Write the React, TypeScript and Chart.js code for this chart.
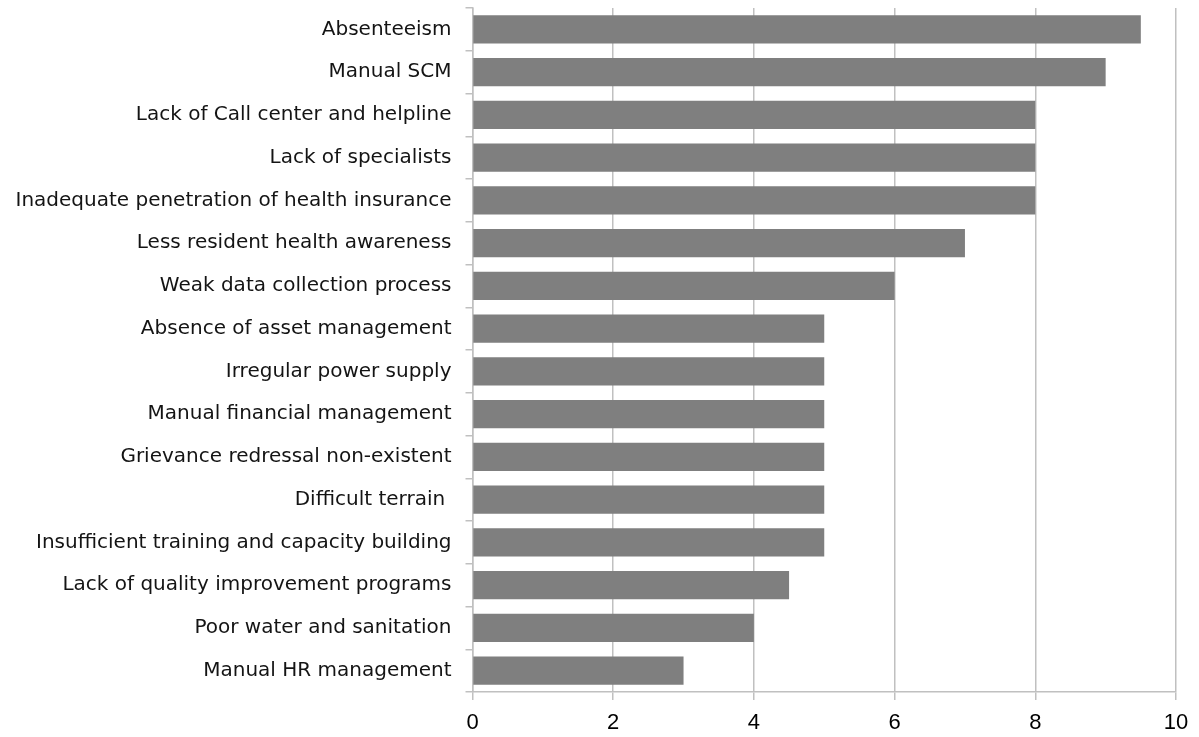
import React, { useEffect, useRef } from "react";
import { Chart, registerables } from "chart.js";

Chart.register(...registerables);

// Problem areas, top to bottom
const categories: string[] = [
  "Absenteeism",
  "Manual SCM",
  "Lack of Call center and helpline",
  "Lack of specialists",
  "Inadequate penetration of health insurance",
  "Less resident health awareness",
  "Weak data collection process",
  "Absence of asset management",
  "Irregular power supply",
  "Manual financial management",
  "Grievance redressal non-existent",
  "Difficult terrain ",
  "Insufficient training and capacity building",
  "Lack of quality improvement programs",
  "Poor water and sanitation",
  "Manual HR management",
];

// Score per problem area
const scores: number[] = [9.5, 9, 8, 8, 8, 7, 6, 5, 5, 5, 5, 5, 5, 4.5, 4, 3];

// Horizontal axis range
const xMin = 0;
const xMax = 10;
const xStep = 2;

const GRID = "#c0c0c0";

export default function App() {
  const canvasRef = useRef<HTMLCanvasElement | null>(null);

  useEffect(() => {
    document.body.style.margin = "0";
    const canvas = canvasRef.current;
    if (!canvas) return;
    const chart = new Chart(canvas, {
      type: "bar",
      data: {
        labels: categories,
        datasets: [
          {
            data: scores,
            backgroundColor: "#7f7f7f",
            borderWidth: 0,
            barPercentage: 0.655,
            categoryPercentage: 1,
          },
        ],
      },
      options: {
        indexAxis: "y",
        animation: false,
        responsive: false,
        maintainAspectRatio: false,
        layout: { padding: { top: 8, right: 23, left: 0, bottom: 0 } },
        plugins: {
          legend: { display: false },
          tooltip: { enabled: false },
        },
        scales: {
          x: {
            min: xMin,
            max: xMax,
            ticks: {
              stepSize: xStep,
              color: "#000000",
              font: { family: "Liberation Sans", size: 22 },
              padding: 10,
            },
            grid: {
              color: GRID,
              lineWidth: 1.5,
              tickLength: 8,
              tickColor: GRID,
            },
            border: { color: GRID, width: 1.5 },
            afterFit: (scale: any) => {
              scale.height = 45;
              scale.paddingLeft = 0;
              scale.paddingRight = 0;
            },
          },
          y: {
            ticks: {
              color: "#141414",
              font: { family: "DejaVu Sans", size: 20 },
              padding: 14,
            },
            grid: {
              drawOnChartArea: false,
              color: GRID,
              lineWidth: 1.5,
              tickLength: 7,
              offset: true,
            },
            border: { color: GRID, width: 1.5 },
            afterFit: (scale: any) => {
              scale.width = 472.5;
              scale.paddingTop = 0;
              scale.paddingBottom = 0;
            },
          },
        },
      },
    });
    return () => chart.destroy();
  }, []);

  return (
    <div style={{ width: 1199, height: 737, background: "#ffffff" }}>
      <canvas ref={canvasRef} width={1199} height={737} />
    </div>
  );
}
